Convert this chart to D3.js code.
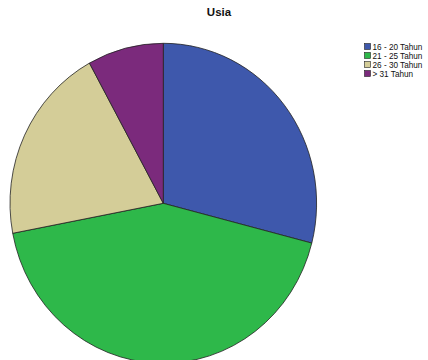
<!DOCTYPE html>
<html><head><meta charset="utf-8">
<script src="https://cdn.jsdelivr.net/npm/d3@7"></script>
<style>body{margin:0;background:#fff}svg{display:block}</style>
</head><body>
<script>
const categories = ["16 - 20 Tahun","21 - 25 Tahun","26 - 30 Tahun","> 31 Tahun"];
const values = [29, 43, 20, 8];
const colors = ["#3e58ac","#2eb84a","#d4cd98","#7b2a7c"];
const title = "Usia";

const W = 428, H = 360;
const svg = d3.select("body").append("svg").attr("width", W).attr("height", H);

svg.append("text").attr("x", 219).attr("y", 16).attr("text-anchor","middle")
  .attr("font-family","Liberation Sans, Arial, sans-serif").attr("font-weight","bold")
  .attr("font-size", 11.5).attr("fill","#111").text(title);

const data = categories.map((c,i)=>({c, v: values[i], col: colors[i]}));
const pie = d3.pie().value(d=>d.v).sort(null);
const R = 153.3;
const arc = d3.arc().innerRadius(0).outerRadius(R);
const g = svg.append("g").attr("transform",`translate(163.3,203.3) scale(1,${160/R})`);
g.selectAll("path").data(pie(data)).join("path")
  .attr("d", arc).attr("fill", d=>d.data.col)
  .attr("stroke","#222").attr("stroke-width",0.8)
  .attr("vector-effect","non-scaling-stroke");

const color = d3.scaleOrdinal().domain(categories).range(colors);
const lg = svg.append("g").attr("transform","translate(364.5,43.5)");
const rows = lg.selectAll("g").data(categories).join("g")
  .attr("transform",(d,i)=>`translate(0,${i*9})`);
rows.append("rect").attr("width",6).attr("height",6).attr("fill",d=>color(d))
  .attr("stroke","#222").attr("stroke-width",0.6);
rows.append("text").attr("x",8).attr("y",6)
  .attr("font-family","Liberation Sans, Arial, sans-serif").attr("font-size",8.2)
  .attr("fill","#111").text(d=>d);
</script>
</body></html>
